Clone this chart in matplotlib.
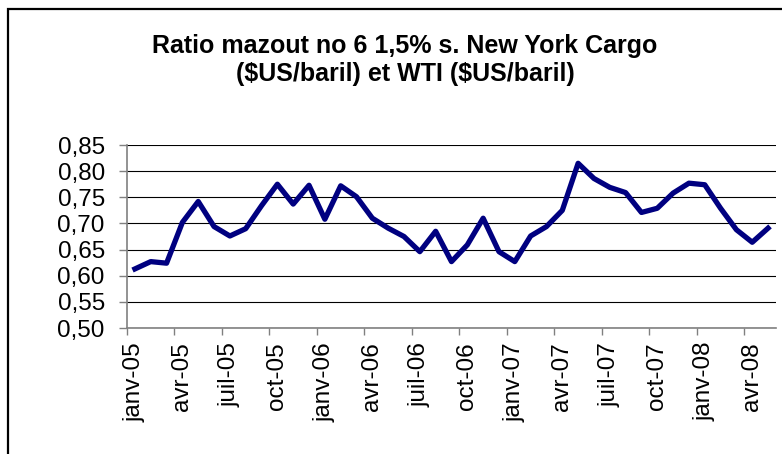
import matplotlib.pyplot as plt
import numpy as np
from matplotlib.patches import Rectangle

plt.rcParams["font.family"] = ["Liberation Sans", "DejaVu Sans"]

# monthly ratio, janv-05 .. mai-08
months = [
    "janv-05", "févr-05", "mars-05", "avr-05", "mai-05", "juin-05",
    "juil-05", "août-05", "sept-05", "oct-05", "nov-05", "déc-05",
    "janv-06", "févr-06", "mars-06", "avr-06", "mai-06", "juin-06",
    "juil-06", "août-06", "sept-06", "oct-06", "nov-06", "déc-06",
    "janv-07", "févr-07", "mars-07", "avr-07", "mai-07", "juin-07",
    "juil-07", "août-07", "sept-07", "oct-07", "nov-07", "déc-07",
    "janv-08", "févr-08", "mars-08", "avr-08", "mai-08",
]
ratio = [
    0.613, 0.627, 0.624, 0.702, 0.742, 0.694,
    0.676, 0.690, 0.734, 0.775, 0.737, 0.773,
    0.708, 0.772, 0.751, 0.710, 0.691, 0.675,
    0.646, 0.685, 0.627, 0.659, 0.710, 0.646,
    0.627, 0.676, 0.694, 0.725, 0.815, 0.786,
    0.769, 0.759, 0.721, 0.729, 0.758, 0.777,
    0.774, 0.729, 0.688, 0.664, 0.691,
]
y_ticks = [0.50, 0.55, 0.60, 0.65, 0.70, 0.75, 0.80, 0.85]
title = "Ratio mazout no 6 1,5% s. New York Cargo\n(\\$US/baril) et WTI (\\$US/baril)"

fig = plt.figure(figsize=(7.82, 4.54), dpi=100)
ax = fig.add_axes([0.1624, 0.2775, 0.8299, 0.4031])

x = np.arange(len(ratio))
ax.plot(x, ratio, color="#000080", linewidth=3.8, solid_joinstyle="round", zorder=3)

ax.set_xlim(-0.5, len(ratio) - 0.5)
ax.set_ylim(y_ticks[0], y_ticks[-1])

# labels on every third month, tick marks on the category boundaries
label_pos = x[::3]
ax.set_xticks(label_pos)
ax.set_xticklabels([months[i] for i in label_pos], rotation=90, fontsize=17.5)
ax.set_xticks(label_pos - 0.5, minor=True)
ax.tick_params(axis="x", which="major", length=0, pad=10)
ax.tick_params(axis="x", which="minor", length=5, width=1, color="#808080", direction="out")

ax.set_yticks(y_ticks)
ax.set_yticklabels([f"{v:.2f}".replace(".", ",") for v in y_ticks], fontsize=17.5)
ax.tick_params(axis="y", length=6, width=1, color="#808080", pad=10)

ax.grid(axis="y", color="black", linewidth=0.8)
ax.set_axisbelow(True)
for side in ["top", "right"]:
    ax.spines[side].set_visible(False)
for side in ["left", "bottom"]:
    ax.spines[side].set_color("#808080")
    ax.spines[side].set_linewidth(1.2)

fig.text(0.518, 0.867, title, ha="center", va="center", fontsize=18,
         fontweight="bold", linespacing=1.2)

# outer chart frame (right and bottom edges fall outside the image)
fig.patches.append(Rectangle((8 / 782, -0.1), 1.2, 1.1 - 9 / 454,
                             transform=fig.transFigure, fill=False,
                             edgecolor="black", linewidth=1.6))

fig.savefig("out.png", dpi=100)
